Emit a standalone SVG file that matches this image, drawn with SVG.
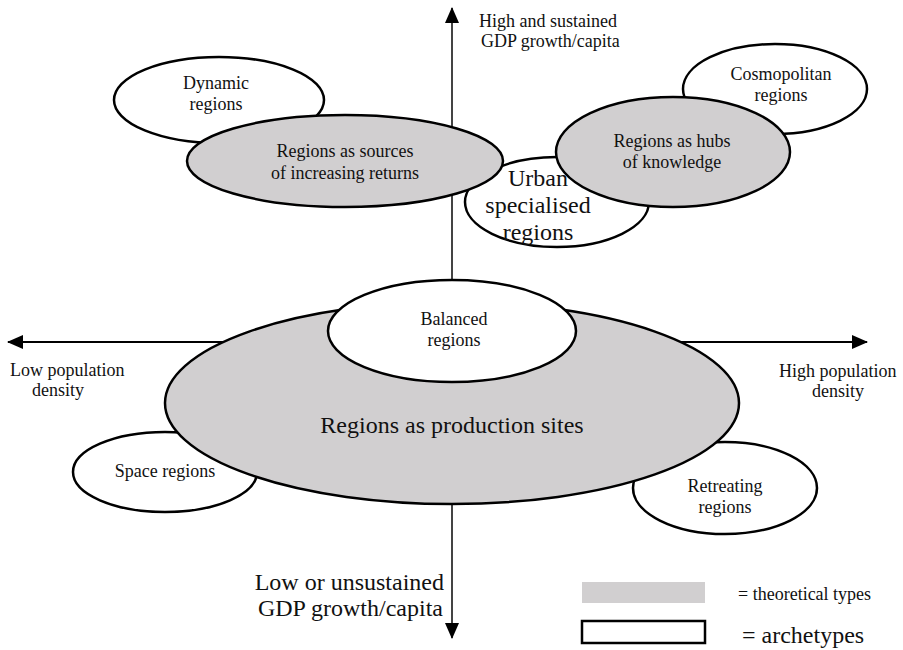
<svg xmlns="http://www.w3.org/2000/svg" width="903" height="650" viewBox="0 0 903 650">
<style>
text{font-family:"Liberation Serif","Times New Roman",serif;fill:#111;text-anchor:middle}
.s{font-size:18px}
.l{font-size:24px}
.arch{fill:#fff;stroke:#000;stroke-width:2.5}
.theo{fill:#d1cfd0;stroke:#000;stroke-width:2.5}
</style>
<defs>
<marker id="ah" viewBox="0 0 16 14" refX="15" refY="7" markerWidth="16" markerHeight="14" markerUnits="userSpaceOnUse" orient="auto">
<path d="M0,0 L16,7 L0,14 Z" fill="#000"/>
</marker>
</defs>
<rect width="903" height="650" fill="#fff"/>
<g id="connectors">
<line x1="452" y1="320" x2="452" y2="8" stroke="#444" stroke-width="2" marker-end="url(#ah)"/>
<line x1="452" y1="320" x2="452" y2="638" stroke="#444" stroke-width="2" marker-end="url(#ah)"/>
<line x1="452" y1="342" x2="8" y2="342" stroke="#000" stroke-width="2" marker-end="url(#ah)"/>
<line x1="452" y1="342" x2="867" y2="342" stroke="#000" stroke-width="2" marker-end="url(#ah)"/>
</g>
<g id="axis-labels">
<text class="s" x="479" y="27" style="text-anchor:start">High and sustained</text>
<text class="s" x="481" y="47" style="text-anchor:start">GDP growth/capita</text>
<text class="s" x="10" y="376" style="text-anchor:start">Low population</text>
<text class="s" x="32" y="396" style="text-anchor:start">density</text>
<text class="s" x="779" y="377" style="text-anchor:start">High population</text>
<text class="s" x="812" y="397" style="text-anchor:start">density</text>
<text class="l" x="444" y="590" style="text-anchor:end">Low or unsustained</text>
<text class="l" x="443" y="616" style="text-anchor:end">GDP growth/capita</text>
</g>
<g id="dynamic">
<ellipse class="arch" cx="219" cy="100" rx="105" ry="43"/>
<text class="s" x="216" y="89">Dynamic</text>
<text class="s" x="216" y="110">regions</text>
</g>
<g id="urban">
<ellipse class="arch" cx="557" cy="202" rx="92" ry="45"/>
<text class="l" x="538" y="186">Urban</text>
<text class="l" x="538" y="213">specialised</text>
<text class="l" x="538" y="240">regions</text>
</g>
<g id="sources">
<ellipse class="theo" cx="345" cy="161" rx="158" ry="46"/>
<text class="s" x="345" y="157">Regions as sources</text>
<text class="s" x="345" y="179">of increasing returns</text>
</g>
<g id="cosmopolitan">
<ellipse class="arch" cx="775" cy="89" rx="92" ry="45"/>
<text class="s" x="781" y="80">Cosmopolitan</text>
<text class="s" x="781" y="101">regions</text>
</g>
<g id="hubs">
<ellipse class="theo" cx="673" cy="152" rx="117" ry="55"/>
<text class="s" x="672" y="147">Regions as hubs</text>
<text class="s" x="672" y="168">of knowledge</text>
</g>
<g id="space">
<ellipse class="arch" cx="165" cy="472" rx="92" ry="40"/>
<text class="s" x="165" y="477">Space regions</text>
</g>
<g id="retreating">
<ellipse class="arch" cx="725" cy="488" rx="92" ry="46"/>
<text class="s" x="725" y="492">Retreating</text>
<text class="s" x="725" y="513">regions</text>
</g>
<g id="production">
<ellipse class="theo" cx="452" cy="403" rx="287" ry="101"/>
<text class="l" x="452" y="433">Regions as production sites</text>
</g>
<g id="balanced">
<ellipse class="arch" cx="452" cy="331" rx="124" ry="51"/>
<text class="s" x="454" y="325">Balanced</text>
<text class="s" x="454" y="346">regions</text>
</g>
<g id="legend">
<rect x="582" y="582" width="123" height="21" fill="#d1cfd0"/>
<text class="s" x="738" y="600" style="text-anchor:start">= theoretical types</text>
<rect x="582" y="621" width="123" height="22" fill="#fff" stroke="#000" stroke-width="2.5"/>
<text class="l" x="742" y="643" style="text-anchor:start">= archetypes</text>
</g>
</svg>
